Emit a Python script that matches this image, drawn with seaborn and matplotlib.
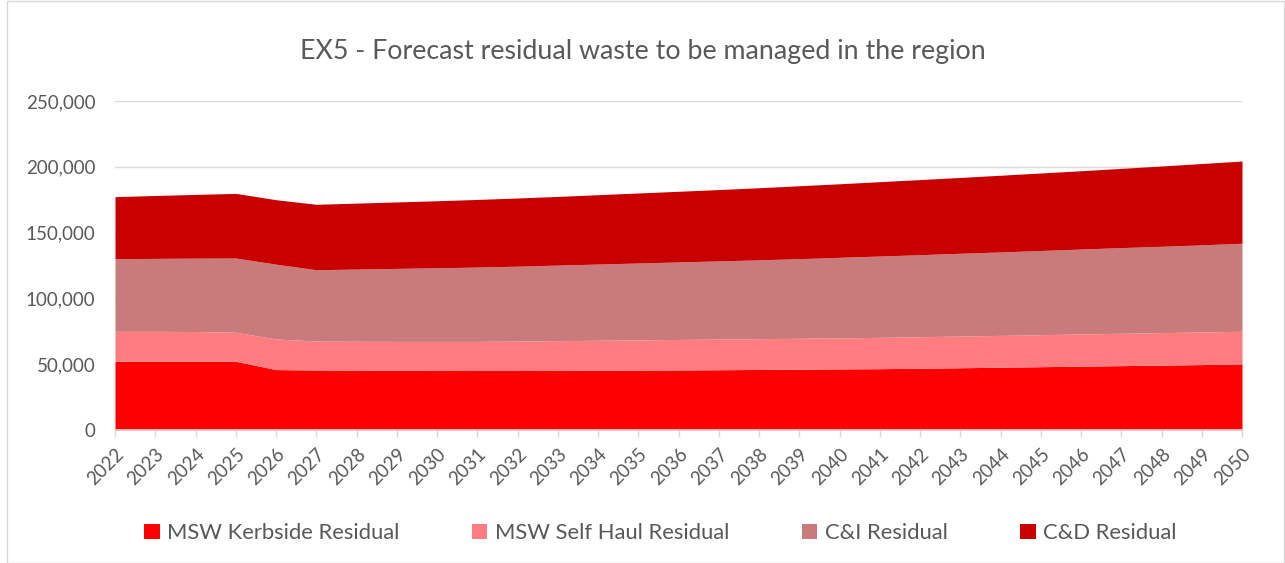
import numpy as np
import pandas as pd
import seaborn as sns
import matplotlib.pyplot as plt
from matplotlib.patches import Patch, Rectangle

years = list(range(2022, 2051))

# tonnes per year
kerbside = [52200, 52200, 52200, 52200, 45900, 45600, 45500, 45400, 45300, 45200,
            45200, 45300, 45400, 45500, 45600, 45800, 46000, 46200, 46400, 46600,
            46900, 47300, 47700, 48100, 48500, 48900, 49300, 49700, 50200]
self_haul = [22800, 22800, 22600, 22100, 23300, 22000, 21900, 21900, 22000, 22100,
             22400, 22600, 22800, 23000, 23200, 23300, 23400, 23500, 23600, 23800,
             24000, 24100, 24200, 24300, 24500, 24600, 24700, 24800, 24800]
c_and_i = [55200, 55400, 55800, 56400, 56800, 54200, 54900, 55500, 56000, 56500,
           56900, 57400, 57900, 58400, 58900, 59400, 59900, 60500, 61200, 61800,
           62300, 62900, 63400, 64000, 64500, 65100, 65600, 66200, 66900]
c_and_d = [47100, 47800, 48400, 49100, 49000, 49700, 50100, 50500, 50900, 51400,
           51800, 52200, 52700, 53200, 53700, 54200, 54800, 55400, 55900, 56500,
           57100, 57600, 58300, 58900, 59500, 60200, 61000, 61800, 62500]

series_names = ["MSW Kerbside Residual", "MSW Self Haul Residual", "C&I Residual", "C&D Residual"]
colors = ["#FF0000", "#FF7C80", "#C97B7B", "#C80000"]

df = pd.DataFrame({"year": years,
                   series_names[0]: kerbside,
                   series_names[1]: self_haul,
                   series_names[2]: c_and_i,
                   series_names[3]: c_and_d})

sns.set_theme(style="white")
plt.rcParams['font.family'] = ['Lato', 'DejaVu Sans']

fig = plt.figure(figsize=(12.85, 5.63), dpi=100)
ax = fig.add_axes([115/1285, 133/563, 1127/1285, 329/563])

ax.stackplot(df["year"], [df[n] for n in series_names], colors=colors,
             labels=series_names, linewidth=0)

grey = "#D9D9D9"
txt = "#595959"
ax.set_xlim(2022, 2050)
ax.set_ylim(0, 250000)
ax.set_yticks(np.arange(0, 250001, 50000))
ax.set_yticklabels([f"{v:,}" for v in range(0, 250001, 50000)], color=txt, fontsize=13.5)
ax.yaxis.grid(True, color=grey, linewidth=1)
ax.set_axisbelow(True)
ax.set_xticks(years)
ax.set_xticklabels([str(y) for y in years], rotation=45, ha="right",
                   rotation_mode="anchor", color=txt, fontsize=13.5)
ax.tick_params(axis="x", bottom=True, length=5, color=grey, width=1, pad=6)
ax.tick_params(axis="y", left=False, length=0, pad=14)
for s in ["top", "right", "left"]:
    ax.spines[s].set_visible(False)
ax.spines["bottom"].set_color(grey)
ax.spines["bottom"].set_linewidth(1.2)
ax.spines["bottom"].set_zorder(5)

fig.text(0.5, 1 - 52/563, "EX5 - Forecast residual waste to be managed in the region",
         ha="center", va="center", fontsize=19.3, color=txt)

handles = [Patch(facecolor=c, edgecolor="none") for c in colors]
fig.legend(handles, series_names, loc="center", bbox_to_anchor=(0.514, 1 - 533/563),
           ncol=4, frameon=False, fontsize=15.8, labelcolor=txt,
           handlelength=0.7, handleheight=0.7, handletextpad=0.35, columnspacing=3.3)

fig.patches.append(Rectangle((7/1285, 0), 1 - 8/1285, 1 - 1/563, transform=fig.transFigure,
                             fill=False, edgecolor=grey, linewidth=1))

fig.savefig("out.png", dpi=100)
